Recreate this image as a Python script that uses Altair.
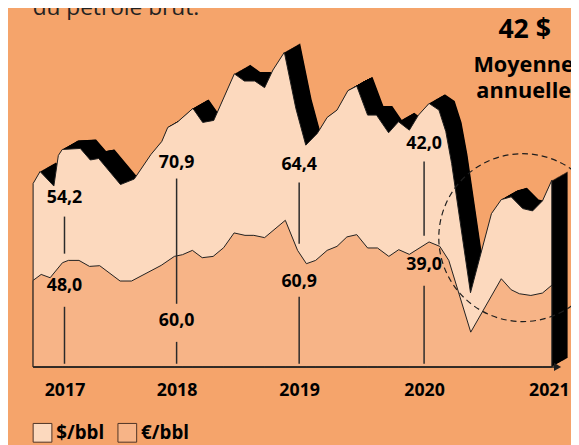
import altair as alt
import pandas as pd

# ---------------- data (x in decimal years, y in chart units) ----------------
usd_year = [2016.720, 2016.782, 2016.905, 2016.945, 2016.980, 2017.141, 2017.230, 2017.305,
            2017.499, 2017.622, 2017.771, 2017.868, 2017.921, 2018.008, 2018.133, 2018.213,
            2018.303, 2018.471, 2018.553, 2018.638, 2018.718, 2018.786, 2018.879, 2018.973,
            2019.053, 2019.145, 2019.224, 2019.303, 2019.390, 2019.461, 2019.548, 2019.619,
            2019.716, 2019.795, 2019.882, 2019.955, 2020.040, 2020.119, 2020.174, 2020.221,
            2020.372, 2020.540, 2020.619, 2020.698, 2020.791, 2020.870, 2020.949, 2021.024]
usd_value = [52.29, 55.71, 51.57, 60.29, 62.0, 62.29, 59.0, 59.43,
             52.0, 53.57, 60.57, 64.29, 68.29, 69.86, 73.71, 69.71,
             70.29, 83.57, 81.51, 81.51, 79.63, 84.66, 89.71, 73.71,
             63.23, 66.57, 71.14, 73.23, 78.77, 80.09, 71.80, 71.80,
             66.77, 69.91, 67.51, 71.80, 75.14, 73.23, 67.14, 58.0,
             21.14, 43.71, 47.71, 48.49, 45.14, 44.49, 47.34, 53.23]

eur_year = [2016.720, 2016.792, 2016.872, 2016.982, 2017.035, 2017.129, 2017.223, 2017.314,
            2017.496, 2017.598, 2017.862, 2017.980, 2018.048, 2018.129, 2018.209, 2018.298,
            2018.384, 2018.469, 2018.558, 2018.630, 2018.718, 2018.887, 2018.987, 2019.058,
            2019.132, 2019.224, 2019.303, 2019.382, 2019.461, 2019.548, 2019.627, 2019.718,
            2019.797, 2019.882, 2020.040, 2020.126, 2020.198, 2020.374, 2020.619, 2020.698,
            2020.764, 2020.856, 2020.949, 2021.024]
eur_value = [24.66, 26.37, 25.43, 29.71, 30.37, 30.37, 28.66, 28.86,
             24.49, 24.49, 28.94, 31.51, 32.0, 33.23, 31.14, 31.51,
             34.0, 38.2, 37.51, 37.51, 36.86, 41.8, 33.23, 29.43,
             30.37, 33.23, 34.37, 37.06, 37.71, 33.91, 33.91, 31.51,
             33.43, 32.09, 35.63, 34.37, 30.37, 9.91, 25.14, 22.0,
             20.86, 20.37, 21.06, 23.3]

year_ticks = [2017, 2018, 2019, 2020, 2021]

ann_year = [2017, 2018, 2019, 2020]
usd_label = ["54,2", "70,9", "64,4", "42,0"]
eur_label = ["48,0", "60,0", "60,9", "39,0"]
usd_label_pos = [48.0, 58.0, 57.43, 63.43]
usd_line_top = [42.86, 53.71, 52.57, 58.57]
usd_line_bot = [32.29, 18.0, 35.14, 37.43]
eur_label_pos = [23.14, 13.14, 24.29, 29.14]
eur_line_top = [17.14, 7.14, 20.0, 23.14]
eur_line_bot = [0.9, 0.9, 0.9, 0.9]

circle_year = [2020.791]
circle_value = [36.86]

axis_start = [2016.72]
axis_end = [2021.07]

series_names = ["$/bbl", "€/bbl"]

# ---------------- layout ----------------
S = 0.984  # vertical fit of the page into the window


def cy(t):
    return round(t / S - 8, 2)


BG = "#F5A46B"
USD_FILL = "#FCD9BE"
EUR_FILL = "#F7B487"
INK = "#1e1e1e"
FONT = "Open Sans"

usd = pd.DataFrame({"year": usd_year, "value": usd_value, "series": series_names[0]})
eur = pd.DataFrame({"year": eur_year, "value": eur_value, "series": series_names[1]})
ann = pd.DataFrame({
    "year": ann_year, "usd_label": usd_label, "eur_label": eur_label,
    "usd_pos": usd_label_pos, "usd_top": usd_line_top, "usd_bot": usd_line_bot,
    "eur_pos": eur_label_pos, "eur_top": eur_line_top, "eur_bot": eur_line_bot,
})
circ = pd.DataFrame({"year": circle_year, "value": circle_value})
base = pd.DataFrame({"x1": axis_start, "x2": axis_end, "v": [0]})
arrow = pd.DataFrame({"year": axis_end, "v": [0]})

PLOT_H = cy(363)
xs = alt.Scale(domain=year_ticks, range=[57.3, 171, 295.3, 422, 548.5], nice=False, zero=False)
ys = alt.Scale(domain=[0, 100], range=[PLOT_H, cy(13)], nice=False, zero=False)
xaxis = alt.Axis(values=year_ticks, format="d", domain=False, ticks=False, tickSize=0,
                 grid=False, title=None, labelPadding=15.2, labelFlush=False, labelOverlap=False,
                 labelFont=FONT, labelFontSize=18, labelFontWeight="bold", labelColor="black")


def X(field="year"):
    return alt.X(f"{field}:Q", scale=xs, axis=xaxis)


def Y(field="value"):
    return alt.Y(f"{field}:Q", scale=ys, axis=None)


color = alt.Color(
    "series:N",
    scale=alt.Scale(domain=series_names, range=[USD_FILL, EUR_FILL]),
    legend=alt.Legend(orient="none", legendX=25, legendY=417.5, direction="horizontal", title=None,
                      symbolType="square", symbolSize=361, symbolStrokeColor="#4d3326",
                      symbolStrokeWidth=1, symbolOpacity=1, labelFont=FONT, labelFontSize=19,
                      labelFontWeight="bold", labelColor="black", labelOffset=4,
                      columnPadding=11, padding=0),
)

layers = []
# 3D black extrusion of the $ area
N = 28
DX, DY = 16.0, -9.0 / S
for k in range(N, 0, -1):
    t = k / N
    layers.append(
        alt.Chart(usd).mark_area(color="black", xOffset=DX * t, yOffset=DY * t, y2Offset=DY * t)
        .encode(x=X(), y=Y())
    )

layers.append(alt.Chart(usd).mark_area(stroke=INK, strokeWidth=1, opacity=1)
              .encode(x=X(), y=Y(), color=color))
layers.append(alt.Chart(eur).mark_area(stroke=INK, strokeWidth=1, opacity=1)
              .encode(x=X(), y=Y(), color=color))

# annotations
a = alt.Chart(ann)
layers.append(a.mark_rule(color="#2a2a2a", strokeWidth=1.5).encode(x=X(), y=Y("usd_top"), y2="usd_bot:Q"))
layers.append(a.mark_rule(color="#2a2a2a", strokeWidth=1.5).encode(x=X(), y=Y("eur_top"), y2="eur_bot:Q"))
txt = dict(font=FONT, fontSize=18, fontWeight="bold", color="black", baseline="middle", align="center")
layers.append(a.mark_text(**txt).encode(x=X(), y=Y("usd_pos"), text="usd_label:N"))
layers.append(a.mark_text(**txt).encode(x=X(), y=Y("eur_pos"), text="eur_label:N"))

# dashed circle around 2020 crash
layers.append(alt.Chart(circ).mark_point(shape="circle", size=29000, filled=False, stroke=INK,
                                         strokeWidth=1.2, strokeDash=[6, 4], opacity=1)
              .encode(x=X(), y=Y()))

# baseline with arrow
layers.append(alt.Chart(base).mark_rule(color=INK, strokeWidth=1.5)
              .encode(x=X("x1"), x2="x2:Q", y=Y("v")))
layers.append(alt.Chart(arrow).mark_point(shape="triangle-right", filled=True, size=70, color=INK, opacity=1)
              .encode(x=X(), y=Y("v")))

# free texts
layers.append(alt.Chart(pd.DataFrame({"t": ["42 $"]}))
              .mark_text(font=FONT, fontSize=27, fontWeight="bold", color="black", align="center", baseline="middle")
              .encode(x=alt.value(524), y=alt.value(cy(27)), text="t:N"))
layers.append(alt.Chart(pd.DataFrame({"t": ["Moyenne"]}))
              .mark_text(font=FONT, fontSize=22, fontWeight="bold", color="black", align="left", baseline="middle")
              .encode(x=alt.value(472), y=alt.value(cy(62)), text="t:N"))
layers.append(alt.Chart(pd.DataFrame({"t": ["annuelle"]}))
              .mark_text(font=FONT, fontSize=22, fontWeight="bold", color="black", align="left", baseline="middle")
              .encode(x=alt.value(475), y=alt.value(cy(88)), text="t:N"))
layers.append(alt.Chart(pd.DataFrame({"t": ["du pétrole brut."]}))
              .mark_text(font=FONT, fontSize=23, color="#222222", align="left", baseline="alphabetic")
              .encode(x=alt.value(25), y=alt.value(cy(11.5)), text="t:N"))

chart = alt.layer(*layers).properties(
    width=571, height=PLOT_H,
    autosize=alt.AutoSizeParams(type="none"),
    padding={"left": 0, "top": 0, "right": 0, "bottom": round(437 - PLOT_H, 2)},
    background=BG,
).configure_view(strokeWidth=0)

chart.save("out.html", embed_options={"renderer": "svg", "actions": False})
